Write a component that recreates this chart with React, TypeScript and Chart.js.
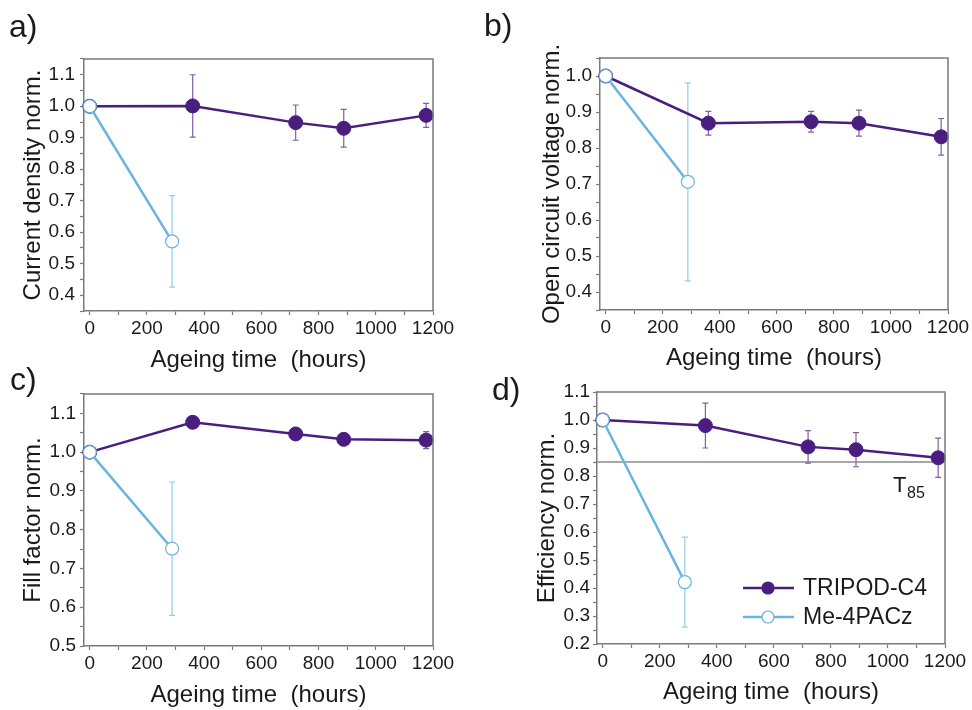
import React, { useEffect, useRef } from "react";
import { Chart, registerables } from "chart.js";

Chart.register(...registerables);

// ---------------- data ----------------
const seriesNames = ["TRIPOD-C4", "Me-4PACz"];
const tripodHours = [0, 360, 720, 888, 1176];
const meHours = [0, 288];

const tripodJsc = [1.0, 1.001, 0.948, 0.93, 0.971];
const tripodJscErr = [0, 0.099, 0.056, 0.06, 0.038];
const meJsc = [1.0, 0.571];
const meJscErr = [0, 0.145];

const tripodVoc = [1.0, 0.869, 0.873, 0.869, 0.831];
const tripodVocErr = [0, 0.033, 0.029, 0.036, 0.051];
const meVoc = [1.0, 0.706];
const meVocErr = [0, 0.275];

const tripodFF = [1.0, 1.077, 1.047, 1.033, 1.031];
const tripodFFErr = [0, 0.006, 0.007, 0.006, 0.022];
const meFF = [1.0, 0.751];
const meFFErr = [0, 0.172];

const tripodPCE = [1.0, 0.98, 0.904, 0.894, 0.865];
const tripodPCEErr = [0, 0.08, 0.058, 0.061, 0.07];
const mePCE = [1.0, 0.421];
const mePCEErr = [0, 0.161];

const t85Level = 0.85;
const t85Label = ["T", "85"];

const xTitle = "Ageing time  (hours)";
const xMajorTicks = [0, 200, 400, 600, 800, 1000, 1200];
const yMajorTicksA = [0.4, 0.5, 0.6, 0.7, 0.8, 0.9, 1.0, 1.1];
const yMajorTicksB = [0.4, 0.5, 0.6, 0.7, 0.8, 0.9, 1.0];
const yMajorTicksC = [0.5, 0.6, 0.7, 0.8, 0.9, 1.0, 1.1];
const yMajorTicksD = [0.2, 0.3, 0.4, 0.5, 0.6, 0.7, 0.8, 0.9, 1.0, 1.1];

// ---------------- styles ----------------
const FONT = '"Liberation Sans", Arial, Helvetica, sans-serif';
const TEXT = "#1a1a1a";
const PURPLE = "#4a1e7e";
const PURPLE_ERR = "#7d61a6";
const BLUE = "#6bb4e0";
const BLUE_ERR = "#94cdea";
const AXIS = "#7a7a7a";

type PanelCfg = {
  letter: string;
  letterPos: [number, number];
  yTitle: string;
  yMin: number;
  yMax: number;
  yMajors: number[];
  tripod: number[];
  tripodErr: number[];
  me: number[];
  meErr: number[];
  box: { left: number; top: number; w: number; h: number };
  area: { L: number; T: number; R: number; B: number };
  xTitleY: number;
  yTitleX: number;
  yLabelPad: number;
  t85?: boolean;
  legend?: boolean;
};

const panels: PanelCfg[] = [
  {
    letter: "a)", letterPos: [9, 10],
    yTitle: "Current density norm.", yMin: 0.35, yMax: 1.15, yMajors: yMajorTicksA,
    tripod: tripodJsc, tripodErr: tripodJscErr, me: meJsc, meErr: meJscErr,
    box: { left: 0, top: 0, w: 486, h: 385 },
    area: { L: 84, T: 59, R: 433, B: 311 },
    xTitleY: 360, yTitleX: 33, yLabelPad: 5,
  },
  {
    letter: "b)", letterPos: [484, 9],
    yTitle: "Open circuit voltage norm.", yMin: 0.35, yMax: 1.05, yMajors: yMajorTicksB,
    tripod: tripodVoc, tripodErr: tripodVocErr, me: meVoc, meErr: meVocErr,
    box: { left: 486, top: 0, w: 486, h: 385 },
    area: { L: 600, T: 58, R: 948, B: 310 },
    xTitleY: 358, yTitleX: 552, yLabelPad: 4,
  },
  {
    letter: "c)", letterPos: [10, 363],
    yTitle: "Fill factor norm.", yMin: 0.5, yMax: 1.15, yMajors: yMajorTicksC,
    tripod: tripodFF, tripodErr: tripodFFErr, me: meFF, meErr: meFFErr,
    box: { left: 0, top: 355, w: 486, h: 355 },
    area: { L: 84, T: 394, R: 433, B: 646 },
    xTitleY: 695, yTitleX: 33.5, yLabelPad: 4,
  },
  {
    letter: "d)", letterPos: [492, 373],
    yTitle: "Efficiency norm.", yMin: 0.2, yMax: 1.1, yMajors: yMajorTicksD,
    tripod: tripodPCE, tripodErr: tripodPCEErr, me: mePCE, meErr: mePCEErr,
    box: { left: 486, top: 355, w: 486, h: 355 },
    area: { L: 597, T: 392, R: 945, B: 644 },
    xTitleY: 692, yTitleX: 547, yLabelPad: 3,
    t85: true, legend: true,
  },
];

function withMinors(majors: number[], min: number, max: number) {
  const step = majors.length > 1 ? majors[1] - majors[0] : 1;
  const vals: { value: number; major: boolean }[] = [];
  const eps = step * 1e-3;
  const first = majors[0] - step / 2;
  if (first >= min - eps) vals.push({ value: first, major: false });
  majors.forEach((m, i) => {
    vals.push({ value: m, major: true });
    const mid = m + step / 2;
    if (i < majors.length - 1 || mid <= max + eps) vals.push({ value: mid, major: false });
  });
  return vals.filter((v) => v.value >= min - eps && v.value <= max + eps);
}

function PanelChart({ cfg }: { cfg: PanelCfg }) {
  const ref = useRef<HTMLCanvasElement>(null);
  useEffect(() => {
    const { box, area } = cfg;
    const titleLH = 24 * 1.2;
    const xTicks = withMinors(xMajorTicks, -20, 1200);
    const yTicks = withMinors(cfg.yMajors, cfg.yMin, cfg.yMax);

    const errorBars = {
      id: "errorBars",
      beforeDatasetsDraw(chart: any) {
        const ctx = chart.ctx;
        const xs = chart.scales.x;
        const ys = chart.scales.y;
        ctx.save();
        // T85 reference line
        if (cfg.t85) {
          const yy = ys.getPixelForValue(t85Level);
          ctx.strokeStyle = "#8a8a8a";
          ctx.lineWidth = 1.5;
          ctx.beginPath();
          ctx.moveTo(chart.chartArea.left, yy);
          ctx.lineTo(chart.chartArea.right, yy);
          ctx.stroke();
        }
        chart.data.datasets.forEach((ds: any) => {
          ctx.strokeStyle = ds.errColor;
          ctx.lineWidth = 1.2;
          ds.data.forEach((p: any, j: number) => {
            const e = ds.errors[j];
            if (!e) return;
            const x = xs.getPixelForValue(p.x);
            const y1 = ys.getPixelForValue(p.y + e);
            const y2 = ys.getPixelForValue(p.y - e);
            ctx.beginPath();
            ctx.moveTo(x, y1);
            ctx.lineTo(x, y2);
            ctx.moveTo(x - 3, y1);
            ctx.lineTo(x + 3, y1);
            ctx.moveTo(x - 3, y2);
            ctx.lineTo(x + 3, y2);
            ctx.stroke();
          });
        });
        ctx.restore();
      },
      afterDraw(chart: any) {
        const ctx = chart.ctx;
        const ca = chart.chartArea;
        ctx.save();
        // top / right frame
        ctx.strokeStyle = AXIS;
        ctx.lineWidth = 1.5;
        ctx.beginPath();
        ctx.moveTo(ca.left, ca.top);
        ctx.lineTo(ca.right, ca.top);
        ctx.lineTo(ca.right, ca.bottom);
        ctx.stroke();
        if (cfg.t85) {
          const yy = chart.scales.y.getPixelForValue(t85Level);
          ctx.fillStyle = TEXT;
          ctx.textBaseline = "alphabetic";
          ctx.textAlign = "left";
          ctx.font = `22px ${FONT}`;
          ctx.fillText(t85Label[0], ca.right - 52, yy + 30);
          ctx.font = `16px ${FONT}`;
          ctx.fillText(t85Label[1], ca.right - 38, yy + 36);
        }
        if (cfg.legend) {
          const rows = [
            { name: seriesNames[0], color: PURPLE, fill: PURPLE, r: 6, dy: -56 },
            { name: seriesNames[1], color: BLUE, fill: "#ffffff", r: 6, dy: -27 },
          ];
          rows.forEach((row) => {
            const y = ca.bottom + row.dy;
            ctx.strokeStyle = row.color;
            ctx.lineWidth = 2.5;
            ctx.beginPath();
            ctx.moveTo(ca.right - 202, y);
            ctx.lineTo(ca.right - 151, y);
            ctx.stroke();
            ctx.beginPath();
            ctx.arc(ca.right - 177, y, row.r, 0, Math.PI * 2);
            ctx.fillStyle = row.fill;
            ctx.fill();
            ctx.lineWidth = 1.2;
            ctx.stroke();
            ctx.fillStyle = TEXT;
            ctx.font = `23px ${FONT}`;
            ctx.textAlign = "left";
            ctx.textBaseline = "middle";
            ctx.fillText(row.name, ca.right - 142, y + 1);
          });
        }
        ctx.restore();
      },
    };

    const chart = new Chart(ref.current as HTMLCanvasElement, {
      type: "line",
      data: {
        datasets: [
          {
            label: seriesNames[1],
            data: meHours.map((h, i) => ({ x: h, y: cfg.me[i] })),
            borderColor: BLUE,
            borderWidth: 2.5,
            pointRadius: 6.5,
            pointBackgroundColor: "#ffffff",
            pointBorderColor: BLUE,
            pointBorderWidth: 1.2,
            clip: false,
            errors: cfg.meErr,
            errColor: BLUE_ERR,
          } as any,
          {
            label: seriesNames[0],
            data: tripodHours.map((h, i) => ({ x: h, y: cfg.tripod[i] })),
            borderColor: PURPLE,
            borderWidth: 2.5,
            pointRadius: 7,
            pointBackgroundColor: PURPLE,
            pointBorderColor: PURPLE,
            pointBorderWidth: 1,
            clip: false,
            errors: cfg.tripodErr,
            errColor: PURPLE_ERR,
          } as any,
        ],
      },
      options: {
        responsive: false,
        animation: false,
        events: [],
        layout: {
          padding: {
            left: 0,
            top: area.T - box.top,
            right: box.left + box.w - area.R,
            bottom: 0,
          },
        },
        plugins: { legend: { display: false }, tooltip: { enabled: false } },
        scales: {
          x: {
            type: "linear",
            min: -20,
            max: 1200,
            afterBuildTicks: (s: any) => {
              s.ticks = xTicks.map((t) => ({ value: t.value }));
            },
            afterFit: (s: any) => {
              s.height = box.top + box.h - area.B;
            },
            ticks: {
              autoSkip: false,
              maxRotation: 0,
              minRotation: 0,
              padding: 2,
              color: TEXT,
              font: { family: FONT, size: 19 },
              callback: (v: any) => (xMajorTicks.includes(Number(v)) ? String(v) : ""),
            },
            grid: {
              display: true,
              drawOnChartArea: false,
              drawTicks: true,
              tickLength: 4,
              tickColor: AXIS,
              tickWidth: 1.2,
            },
            border: { display: true, color: AXIS, width: 1.5 },
            title: {
              display: true,
              text: xTitle,
              color: TEXT,
              font: { family: FONT, size: 24 },
              padding: { top: 0, bottom: box.top + box.h - cfg.xTitleY - titleLH / 2 },
            },
          },
          y: {
            type: "linear",
            min: cfg.yMin,
            max: cfg.yMax,
            afterBuildTicks: (s: any) => {
              s.ticks = yTicks.map((t) => ({ value: t.value }));
            },
            afterFit: (s: any) => {
              s.width = area.L - box.left;
            },
            ticks: {
              autoSkip: false,
              padding: cfg.yLabelPad,
              color: TEXT,
              font: { family: FONT, size: 19 },
              callback: (v: any) => {
                const n = Number(v);
                return cfg.yMajors.some((m) => Math.abs(m - n) < 1e-6) ? n.toFixed(1) : "";
              },
            },
            grid: {
              display: true,
              drawOnChartArea: false,
              drawTicks: true,
              tickLength: 4,
              tickColor: AXIS,
              tickWidth: 1.2,
            },
            border: { display: true, color: AXIS, width: 1.5 },
            title: {
              display: true,
              text: cfg.yTitle,
              color: TEXT,
              font: { family: FONT, size: 24 },
              padding: { top: cfg.yTitleX - box.left - titleLH / 2, bottom: 0 },
            },
          },
        },
      } as any,
      plugins: [errorBars],
    });
    return () => chart.destroy();
  }, [cfg]);

  return (
    <canvas
      ref={ref}
      width={cfg.box.w}
      height={cfg.box.h}
      style={{
        position: "absolute",
        left: cfg.box.left,
        top: cfg.box.top,
        width: cfg.box.w,
        height: cfg.box.h,
      }}
    />
  );
}

export default function App() {
  return (
    <div
      style={{
        position: "absolute",
        left: 0,
        top: 0,
        width: 972,
        height: 710,
        background: "#ffffff",
        overflow: "hidden",
      }}
    >
      {panels.map((p) => (
        <PanelChart key={p.letter} cfg={p} />
      ))}
      {panels.map((p) => (
        <div
          key={"l" + p.letter}
          style={{
            position: "absolute",
            left: p.letterPos[0],
            top: p.letterPos[1],
            fontFamily: FONT,
            fontSize: 32,
            lineHeight: "32px",
            color: TEXT,
          }}
        >
          {p.letter}
        </div>
      ))}
    </div>
  );
}
